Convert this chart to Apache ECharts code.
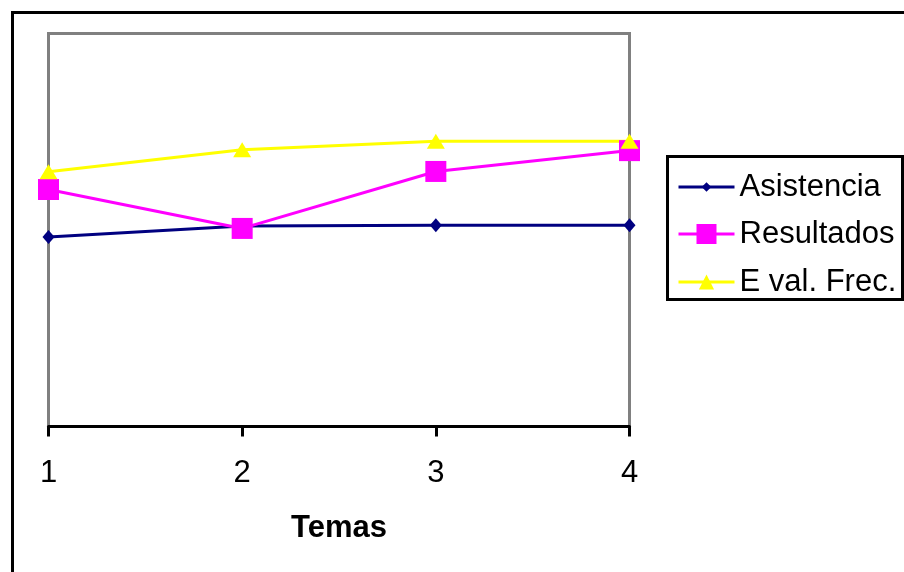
<!DOCTYPE html>
<html>
<head>
<meta charset="utf-8">
<script src="https://cdn.jsdelivr.net/npm/echarts@6/dist/echarts.min.js"></script>
<style>
  html, body { margin: 0; padding: 0; background: #fff; }
  #chart { width: 904px; height: 572px; }
</style>
</head>
<body>
<div id="chart"></div>
<script>
// Topics on the horizontal axis
const temas = ['1', '2', '3', '4'];

// Series values (vertical scale 0–100, no visible value axis)
const asistencia = [48.2, 51.0, 51.2, 51.2];
const resultados = [60.3, 50.4, 64.9, 70.2];
const evalFrec = [64.8, 70.4, 72.6, 72.6];

const FONT = 'Arial, "Liberation Sans", sans-serif';

const chart = echarts.init(document.getElementById('chart'), null, { renderer: 'canvas' });

// One legend block per series so each icon keeps its own marker size
function legendAt(name, top, itemHeight) {
  return {
    data: [name],
    orient: 'vertical',
    left: 677,
    top: top,
    padding: 0,
    itemWidth: 56,
    itemHeight: itemHeight,
    selectedMode: false,
    lineStyle: { width: 3 },
    textStyle: { fontFamily: FONT, fontSize: 31, color: '#000', lineHeight: 32 }
  };
}

chart.setOption({
  animation: false,
  backgroundColor: '#fff',
  grid: {
    show: true,
    left: 48.5,
    top: 33.5,
    right: 274.5,
    bottom: 145.5,
    borderColor: '#808080',
    borderWidth: 3,
    backgroundColor: 'transparent'
  },
  legend: [
    legendAt('Asistencia', 171, 12),
    legendAt('Resultados', 218, 25),
    legendAt('E val. Frec.', 266, 19)
  ],
  graphic: [
    {
      type: 'rect',
      shape: { x: 12.5, y: 12.5, width: 1000, height: 1000 },
      style: { fill: 'none', stroke: '#000', lineWidth: 3 },
      silent: true
    },
    {
      type: 'rect',
      shape: { x: 667.5, y: 156.5, width: 235, height: 143 },
      style: { fill: 'none', stroke: '#000', lineWidth: 3 },
      silent: true
    }
  ],
  xAxis: {
    type: 'category',
    data: temas,
    boundaryGap: false,
    name: 'Temas',
    nameLocation: 'middle',
    nameGap: 86,
    nameTextStyle: { fontFamily: FONT, fontSize: 31, fontWeight: 'bold', color: '#000' },
    axisLine: { show: true, lineStyle: { color: '#000', width: 3 } },
    axisTick: { show: true, length: 10, lineStyle: { color: '#000', width: 3 } },
    axisLabel: { fontFamily: FONT, fontSize: 31, color: '#000', margin: 31 },
    splitLine: { show: false }
  },
  yAxis: {
    type: 'value',
    min: 0,
    max: 100,
    show: false
  },
  series: [
    {
      name: 'Asistencia',
      type: 'line',
      data: asistencia,
      symbol: 'diamond',
      symbolSize: [12, 14],
      showAllSymbol: true,
      lineStyle: { color: '#000080', width: 3 },
      itemStyle: { color: '#000080' },
      emphasis: { disabled: true }
    },
    {
      name: 'Resultados',
      type: 'line',
      data: resultados,
      symbol: 'rect',
      symbolSize: 21,
      showAllSymbol: true,
      lineStyle: { color: '#FF00FF', width: 3 },
      itemStyle: { color: '#FF00FF' },
      emphasis: { disabled: true }
    },
    {
      name: 'E val. Frec.',
      type: 'line',
      data: evalFrec,
      symbol: 'triangle',
      symbolSize: [18, 15],
      showAllSymbol: true,
      lineStyle: { color: '#FFFF00', width: 3 },
      itemStyle: { color: '#FFFF00' },
      emphasis: { disabled: true }
    }
  ]
});
</script>
</body>
</html>
